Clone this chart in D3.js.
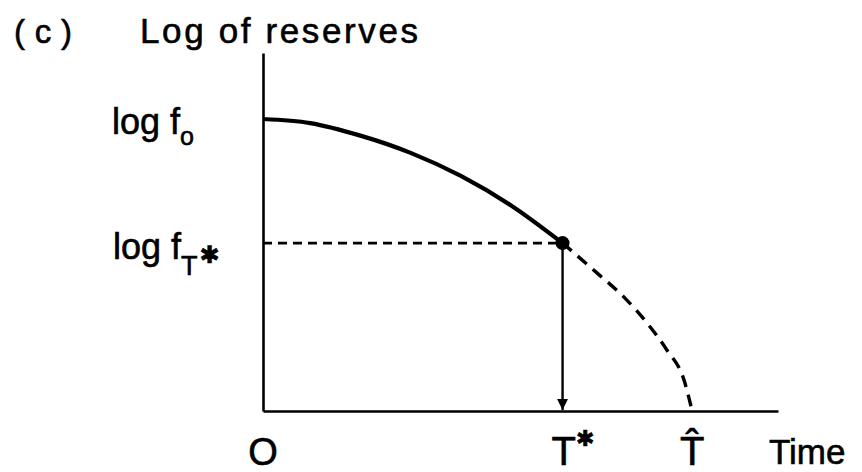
<!DOCTYPE html>
<html><head><meta charset="utf-8">
<script src="https://cdn.jsdelivr.net/npm/d3@7"></script>
<style>body{margin:0;background:#fff}svg{display:block}text{font-family:"Liberation Sans",Arial,sans-serif;fill:#000;stroke:#000;stroke-width:0.6px}</style>
</head><body><svg id="c" width="862" height="472"></svg>
<script>
// Data (time in units of T-hat, log reserves in units of log f0)
const solidTime  = [0, 0.11, 0.227, 0.344, 0.461, 0.578, 0.698];
const solidLog   = [1.0, 0.986, 0.943, 0.884, 0.805, 0.704, 0.575];
const dashedTime = [0.698, 0.778, 0.841, 0.895, 0.941, 0.981, 1.0];
const dashedLog  = [0.575, 0.473, 0.390, 0.301, 0.209, 0.106, 0];
const tStar = 0.698, tHat = 1.0;
const logF0 = 1.0, logFTstar = 0.575;
const xMax = 1.2, yMax = 1.226;

const svg = d3.select("#c");
const x = d3.scaleLinear().domain([0, xMax]).range([263, 778]);
const y = d3.scaleLinear().domain([0, yMax]).range([411, 53]);

// axes
svg.append("g").attr("transform", `translate(0,${y(0)})`)
  .call(d3.axisBottom(x).tickValues([]).tickSizeOuter(0))
  .call(g => g.select(".domain").attr("stroke", "#000").attr("stroke-width", 2.6));
svg.append("g").attr("transform", `translate(${x(0)},0)`)
  .call(d3.axisLeft(y).tickValues([]).tickSizeOuter(0))
  .call(g => g.select(".domain").attr("stroke", "#000").attr("stroke-width", 2.6));

const line = d3.line().x(d => x(d[0])).y(d => y(d[1])).curve(d3.curveMonotoneX);
svg.append("path").datum(solidTime.map((t, i) => [t, solidLog[i]]))
  .attr("d", line).attr("fill", "none").attr("stroke", "#000").attr("stroke-width", 4.2);
svg.append("path").datum(dashedTime.map((t, i) => [t, dashedLog[i]]))
  .attr("d", line).attr("fill", "none").attr("stroke", "#000").attr("stroke-width", 3.4)
  .attr("stroke-dasharray", "12 8");

// horizontal dashed
svg.append("line").attr("x1", x(0)).attr("x2", x(tStar))
  .attr("y1", y(logFTstar)).attr("y2", y(logFTstar))
  .attr("stroke", "#000").attr("stroke-width", 2.8).attr("stroke-dasharray", "9 6");

// vertical arrow
svg.append("defs").append("marker").attr("id", "ah").attr("viewBox", "0 0 10 10")
  .attr("refX", 10).attr("refY", 5).attr("markerWidth", 11).attr("markerHeight", 11)
  .attr("markerUnits", "userSpaceOnUse").attr("orient", "auto")
  .append("path").attr("d", "M0,0L10,5L0,10Z").attr("fill", "#000");
svg.append("line").attr("x1", x(tStar)).attr("x2", x(tStar))
  .attr("y1", y(logFTstar)).attr("y2", y(0) - 1)
  .attr("stroke", "#000").attr("stroke-width", 2.4).attr("marker-end", "url(#ah)");

svg.append("circle").attr("cx", x(tStar)).attr("cy", y(logFTstar)).attr("r", 7).attr("fill", "#000");

// texts
svg.append("text").attr("x", 14).attr("y", 43).attr("font-size", 33)
  .attr("textLength", 58).attr("lengthAdjust", "spacing").text("( c )");
svg.append("text").attr("x", 140).attr("y", 43).attr("font-size", 35)
  .attr("textLength", 278).attr("lengthAdjust", "spacing").text("Log of reserves");

const l0 = svg.append("text").attr("x", 112).attr("y", y(logF0) + 15).attr("font-size", 36);
l0.append("tspan").text("log f");
l0.append("tspan").attr("font-size", 25).attr("dy", 11).text("o");

const l1 = svg.append("text").attr("x", 113).attr("y", y(logFTstar) + 16).attr("font-size", 36);
l1.append("tspan").text("log f");
l1.append("tspan").attr("font-size", 27).attr("dy", 16).text("T");
l1.append("tspan").attr("font-size", 24).attr("dy", -12).attr("dx", 2)
  .style("font-family", "DejaVu Sans").text("\u2731");

svg.append("text").attr("x", x(0)).attr("y", 465).attr("font-size", 38).attr("text-anchor", "middle").text("O");
const ts = svg.append("text").attr("x", x(tStar) - 11).attr("y", 465).attr("font-size", 40);
ts.append("tspan").text("T");
ts.append("tspan").attr("font-size", 22).attr("dy", -19).style("font-family", "DejaVu Sans").text("\u2731");
svg.append("text").attr("x", x(tHat)).attr("y", 465).attr("font-size", 40).attr("text-anchor", "middle").text("T\u0302");
svg.append("text").attr("x", 769).attr("y", 464).attr("font-size", 35).text("Time");
</script></body></html>
